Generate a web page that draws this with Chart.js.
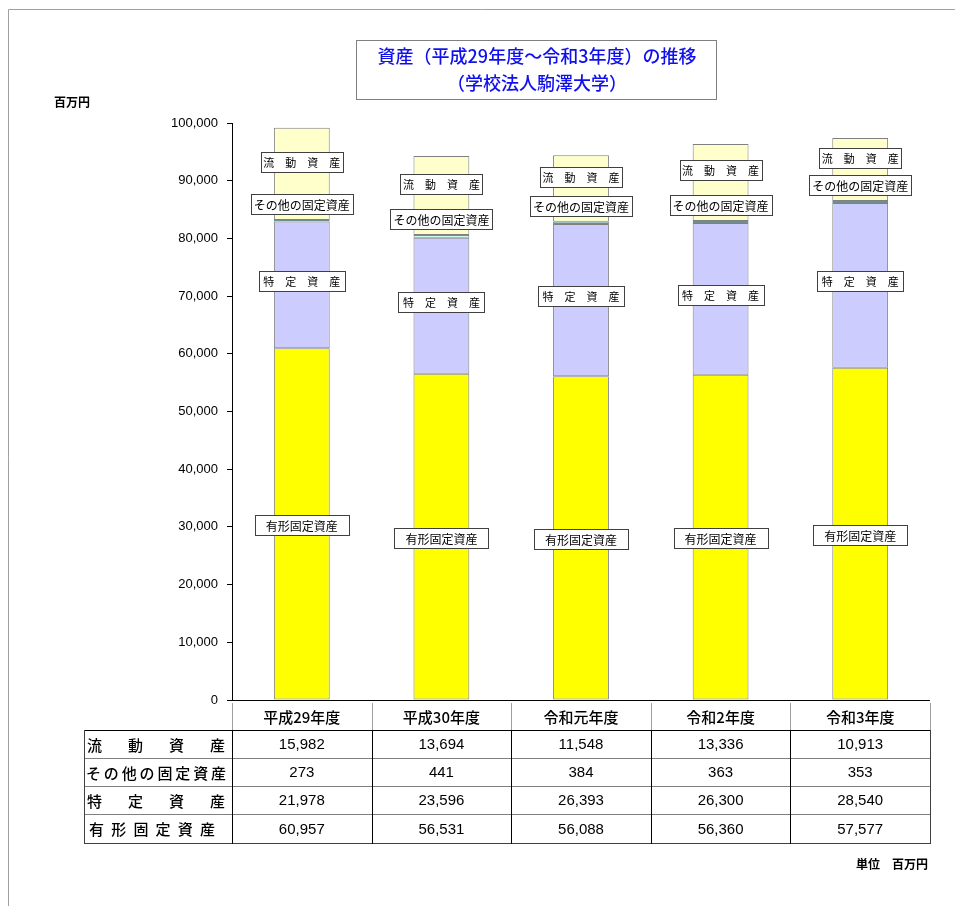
<!DOCTYPE html>
<html lang="ja">
<head>
<meta charset="UTF-8">
<title>資産の推移</title>
<script src="https://cdn.jsdelivr.net/npm/chart.js@4.4.1/dist/chart.umd.min.js"></script>
<style>
  html, body { margin: 0; padding: 0; background: #fff; }
  #wrap { width: 955px; height: 906px; }
</style>
</head>
<body>
<div id="wrap"><canvas id="chart" width="955" height="906"></canvas></div>
<script>
const categories = ['平成29年度', '平成30年度', '令和元年度', '令和2年度', '令和3年度'];
const yukeiKotei = [60957, 56531, 56088, 56360, 57577];   // 有形固定資産
const tokutei = [21978, 23596, 26393, 26300, 28540];      // 特定資産
const sonotaKotei = [273, 441, 384, 363, 353];            // その他の固定資産
const ryudo = [15982, 13694, 11548, 13336, 10913];        // 流動資産
const yMax = 100000;
const yStep = 10000;

const JP = '"Noto Sans CJK JP", "Noto Sans", sans-serif';
const NUM = 'Arial, "Liberation Sans", sans-serif';

// label boxes on the bars: text, box width, vertical offset from segment middle
const barLabels = [
  { text: '有形固定資産', w: 94, dy: 1, font: '12px ' + JP },
  { text: '特　定　資　産', w: 86, dy: -4, font: '11px ' + JP },
  { text: 'その他の固定資産', w: 102, dy: -17, font: '12px ' + JP },
  { text: '流　動　資　産', w: 82, dy: -12, font: '11px ' + JP }
];

// table rows (top to bottom)
const tableRows = [
  { name: '流動資産', data: ryudo, x0: 87, x1: 225 },
  { name: 'その他の固定資産', data: sonotaKotei, x0: 86, x1: 226 },
  { name: '特定資産', data: tokutei, x0: 87, x1: 225 },
  { name: '有形固定資産', data: yukeiKotei, x0: 89, x1: 215 }
];

const labelPlugin = {
  id: 'barLabels',
  afterDatasetsDraw(chart) {
    const ctx = chart.ctx;
    ctx.save();
    chart.data.datasets.forEach((ds, i) => {
      const meta = chart.getDatasetMeta(i);
      const lab = barLabels[i];
      meta.data.forEach(bar => {
        const cy = Math.round((bar.y + bar.base) / 2 + lab.dy);
        const bx = Math.round(bar.x - lab.w / 2) + 0.5;
        const by = cy - 10 + 0.5;
        ctx.fillStyle = '#fff';
        ctx.fillRect(bx, by, lab.w, 20);
        ctx.strokeStyle = '#404040';
        ctx.lineWidth = 1;
        ctx.strokeRect(bx, by, lab.w, 20);
        ctx.fillStyle = '#000';
        ctx.font = lab.font;
        ctx.textAlign = 'center';
        ctx.textBaseline = 'middle';
        ctx.fillText(lab.text, bar.x, cy + 1);
      });
    });
    ctx.restore();
  }
};

const pagePlugin = {
  id: 'page',
  afterDraw(chart) {
    const ctx = chart.ctx;
    const area = chart.chartArea;
    const xs = chart.scales.x;
    ctx.save();

    // page frame
    ctx.strokeStyle = '#a0a0a0';
    ctx.lineWidth = 1;
    ctx.beginPath();
    ctx.moveTo(8.5, 906);
    ctx.lineTo(8.5, 9.5);
    ctx.lineTo(955, 9.5);
    ctx.stroke();

    // title box
    ctx.fillStyle = '#fff';
    ctx.fillRect(356.5, 40.5, 360, 59);
    ctx.strokeStyle = '#808080';
    ctx.strokeRect(356.5, 40.5, 360, 59);
    ctx.fillStyle = '#1010ee';
    ctx.font = '500 18px ' + JP;
    ctx.textAlign = 'center';
    ctx.textBaseline = 'middle';
    ctx.fillText('資産（平成29年度～令和3年度）の推移', 537, 56);
    ctx.fillText('（学校法人駒澤大学）', 537, 83);

    // unit texts
    ctx.fillStyle = '#000';
    ctx.font = 'bold 12px ' + JP;
    ctx.textAlign = 'left';
    ctx.fillText('百万円', 54, 102);
    ctx.textAlign = 'right';
    ctx.fillText('単位　百万円', 928, 864);

    // table geometry
    const colW = (area.right - area.left) / categories.length;
    const rowY = [703, 730, 758, 786, 814, 843];

    // x axis line
    ctx.strokeStyle = '#000';
    ctx.beginPath();
    ctx.moveTo(area.left, area.bottom + 0.5);
    ctx.lineTo(area.right, area.bottom + 0.5);
    ctx.stroke();

    // horizontal lines
    for (let r = 1; r < rowY.length; r++) {
      ctx.strokeStyle = (r === 1) ? '#000' : (r === rowY.length - 1 ? '#404040' : '#808080');
      ctx.beginPath();
      ctx.moveTo(84, rowY[r] + 0.5);
      ctx.lineTo(area.right, rowY[r] + 0.5);
      ctx.stroke();
    }
    // left border of the row-label column
    ctx.strokeStyle = '#404040';
    ctx.beginPath();
    ctx.moveTo(84.5, rowY[1]);
    ctx.lineTo(84.5, rowY[5] + 1);
    ctx.stroke();
    // vertical lines between categories
    for (let c = 0; c <= categories.length; c++) {
      const x = Math.round(area.left + c * colW) + 0.5;
      ctx.strokeStyle = '#a0a0a0';
      ctx.beginPath();
      ctx.moveTo(x, rowY[0]);
      ctx.lineTo(x, rowY[1]);
      ctx.stroke();
      ctx.strokeStyle = (c === categories.length) ? '#404040' : '#000';
      ctx.beginPath();
      ctx.moveTo(x, rowY[1]);
      ctx.lineTo(x, rowY[5] + 1);
      ctx.stroke();
    }

    // header labels
    ctx.fillStyle = '#000';
    ctx.textAlign = 'center';
    ctx.font = '500 15px ' + JP;
    categories.forEach((c, i) => {
      ctx.fillText(c, xs.getPixelForValue(i), (rowY[0] + rowY[1]) / 2 + 1);
    });

    // rows
    tableRows.forEach((row, r) => {
      const cy = (rowY[r + 1] + rowY[r + 2]) / 2 + 1;
      const chars = Array.from(row.name);
      ctx.font = '500 15px ' + JP;
      ctx.textAlign = 'left';
      const cw = 15;
      const gap = chars.length > 1 ? (row.x1 - row.x0 - cw * chars.length) / (chars.length - 1) : 0;
      chars.forEach((ch, k) => {
        ctx.fillText(ch, row.x0 + k * (cw + gap), cy);
      });
      ctx.font = '15px ' + NUM;
      ctx.textAlign = 'center';
      row.data.forEach((v, i) => {
        ctx.fillText(v.toLocaleString('en-US'), xs.getPixelForValue(i), cy);
      });
    });

    ctx.restore();
  }
};

const ctx = document.getElementById('chart').getContext('2d');
new Chart(ctx, {
  type: 'bar',
  data: {
    labels: categories,
    datasets: [
      { label: '有形固定資産', data: yukeiKotei, backgroundColor: '#ffff00' },
      { label: '特定資産', data: tokutei, backgroundColor: '#ccccff' },
      { label: 'その他の固定資産', data: sonotaKotei, backgroundColor: '#ccffff', borderColor: '#6f8f8f' },
      { label: '流動資産', data: ryudo, backgroundColor: '#ffffcc' }
    ].map(ds => Object.assign({
      borderColor: '#808080',
      borderWidth: 1,
      barPercentage: 0.4,
      categoryPercentage: 1.0,
      borderSkipped: false
    }, ds))
  },
  options: {
    responsive: false,
    animation: false,
    devicePixelRatio: 1,
    layout: { padding: { left: 0, top: 123, right: 25, bottom: 206 } },
    plugins: {
      legend: { display: false },
      tooltip: { enabled: false },
      title: { display: false }
    },
    scales: {
      x: {
        stacked: true,
        display: false
      },
      y: {
        stacked: true,
        min: 0,
        max: yMax,
        afterFit(scale) { scale.width = 232; },
        ticks: {
          stepSize: yStep,
          color: '#000',
          font: { family: NUM, size: 13 },
          padding: 9,
          callback: v => v.toLocaleString('en-US')
        },
        grid: {
          drawOnChartArea: false,
          drawTicks: true,
          tickLength: 5,
          color: '#000'
        },
        border: { color: '#000' }
      }
    }
  },
  plugins: [labelPlugin, pagePlugin]
});
</script>
</body>
</html>
